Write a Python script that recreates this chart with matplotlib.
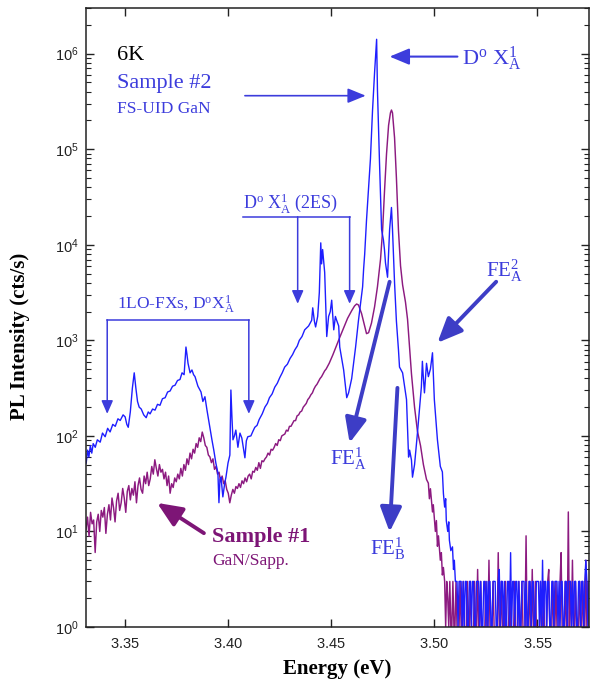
import numpy as np
import matplotlib
matplotlib.use("Agg")
import matplotlib.pyplot as plt
from matplotlib.ticker import LogLocator, FuncFormatter, NullFormatter, FixedLocator

plt.rcParams['font.family'] = ['Liberation Serif', 'DejaVu Serif']
plt.rcParams['mathtext.fontset'] = 'custom'
plt.rcParams['mathtext.rm'] = 'Liberation Serif'
plt.rcParams['mathtext.it'] = 'Liberation Serif:italic'
plt.rcParams['mathtext.bf'] = 'Liberation Serif:bold'
plt.rcParams['mathtext.sf'] = 'Liberation Sans'

# --- Sample #2 (FS-UID GaN): energy (eV) and PL counts (cts/s) ---
e_s2 = [3.3311, 3.3318, 3.3324, 3.3331, 3.3338, 3.3345, 3.3355, 3.3365, 3.3379, 3.3390,
        3.3403, 3.3415, 3.3427, 3.3440, 3.3452, 3.3465, 3.3476, 3.3490, 3.3500, 3.3508,
        3.3515, 3.3525, 3.3535, 3.3544, 3.3552, 3.3560, 3.3568, 3.3578, 3.3590, 3.3602,
        3.3612, 3.3621, 3.3633, 3.3645, 3.3657, 3.3669, 3.3681, 3.3694, 3.3706, 3.3718,
        3.3730, 3.3742, 3.3754, 3.3766, 3.3776, 3.3786, 3.3795, 3.3800, 3.3805, 3.3815,
        3.3824, 3.3832, 3.3839, 3.3853, 3.3868, 3.3877, 3.3887, 3.3897, 3.3910, 3.3921,
        3.3930, 3.3940, 3.3950, 3.3955, 3.3960, 3.3965, 3.3974, 3.3983, 3.3989, 3.3999,
        3.4008, 3.4013, 3.4018, 3.4023, 3.4030, 3.4037, 3.4047, 3.4057, 3.4066, 3.4075,
        3.4081, 3.4088, 3.4095, 3.4110, 3.4120, 3.4129, 3.4140, 3.4150, 3.4165, 3.4178,
        3.4190, 3.4200, 3.4213, 3.4226, 3.4238, 3.4250, 3.4262, 3.4274, 3.4287, 3.4300,
        3.4312, 3.4323, 3.4335, 3.4345, 3.4358, 3.4371, 3.4390, 3.4405, 3.4410, 3.4418,
        3.4424, 3.4434, 3.4442, 3.4449, 3.4453, 3.4458, 3.4468, 3.4478, 3.4487, 3.4495,
        3.4502, 3.4512, 3.4520, 3.4526, 3.4536, 3.4541, 3.4560, 3.4575, 3.4584, 3.4599,
        3.4618, 3.4632, 3.4652, 3.4657, 3.4662, 3.4671, 3.4690, 3.4700, 3.4710, 3.4720,
        3.4724, 3.4734, 3.4744, 3.4753, 3.4758, 3.4763, 3.4773, 3.4783, 3.4792, 3.4797,
        3.4807, 3.4816, 3.4826, 3.4831, 3.4846, 3.4865, 3.4875, 3.4880, 3.4889, 3.4894,
        3.4904, 3.4918, 3.4937, 3.4942, 3.4947, 3.4952, 3.4962, 3.4971, 3.4981, 3.4991,
        3.5000, 3.5015, 3.5029, 3.5039, 3.5044, 3.5050, 3.5055, 3.5058, 3.5065, 3.5070,
        3.5073, 3.5080, 3.5088, 3.5093, 3.5097, 3.5102]
i_s2 = [52, 71, 60, 79, 66, 83, 76, 91, 86, 107,
        98, 120, 110, 132, 126, 151, 145, 166, 158, 132,
        123, 178, 316, 457, 316, 229, 200, 191, 166, 155,
        178, 170, 191, 186, 214, 209, 245, 251, 288, 295,
        331, 339, 380, 389, 457, 437, 851, 708, 575, 457,
        490, 437, 417, 331, 288, 229, 257, 186, 126, 91,
        71, 52, 41, 20, 35, 37, 23, 32, 37, 52,
        63, 302, 158, 91, 100, 115, 76, 107, 95, 71,
        59, 89, 98, 100, 112, 123, 129, 148, 170, 200,
        219, 251, 275, 324, 355, 407, 457, 525, 562, 646,
        708, 794, 871, 1000, 1096, 1288, 1413, 1622, 2188, 1585,
        1380, 1778, 3162, 10470, 6310, 8913, 5129, 1096, 1778, 1995,
        2630, 1288, 1778, 1622, 1413, 851, 490, 251, 282, 398,
        851, 1622, 3631, 5623, 7943, 18200, 79430, 251200, 631000, 1413000,
        417000, 72440, 14450, 11220, 8913, 6457, 4571, 14450, 24550, 14450,
        3981, 1585, 794, 525, 457, 240, 60, 71, 56, 37,
        50, 107, 324, 603, 398, 282, 575, 417, 501, 741,
        240, 91, 48, 42, 25, 18, 22, 13, 10, 12.6,
        8.1, 6.3, 6.9, 4.0, 5.0, 3.0]
# noise floor of sample #2, 0.5 meV steps from 3.5105 eV
e_s2_floor0 = 3.5105
i_s2_floor = [3, 3, 1, 3, 3, 3, 1, 3, 1, 3,
              3, 1, 1, 3, 3, 1, 3, 3, 1, 1,
              3, 3, 3, 1, 3, 1, 1, 3, 3, 1,
              3, 1, 3, 3, 1, 1, 3, 3, 3, 1,
              1, 3, 4, 1, 3, 3, 1, 3, 1, 1,
              3, 3, 1, 6, 1, 3, 3, 1, 3, 3,
              1, 3, 1, 1, 3, 3, 3, 1, 3, 1,
              1, 3, 3, 1, 3, 3, 1, 1, 3, 3,
              3, 1, 3, 1, 5, 1, 3, 3, 1, 3,
              3, 1, 1, 3, 3, 1, 3, 3, 3, 1,
              3, 1, 3, 3, 1, 1, 3, 3, 1, 3,
              3, 3, 1, 3, 1, 3, 3, 1, 1, 3,
              3, 1, 3, 3, 1, 3, 5, 3, 1, 3]

# --- Sample #1 (GaN/Sapp.) ---
# low-energy side, log10 of counts on an even grid 3.331 .. 3.449 eV
e_s1_low = (3.331, 3.449)
log_i_s1_low = [1.02, 1.15, 0.95, 1.20, 1.08, 1.12, 0.78, 1.10, 1.18, 1.00,
                1.22, 1.15, 1.25, 0.98, 1.18, 1.28, 1.12, 1.35, 1.25, 1.10,
                1.32, 1.40, 1.22, 1.30, 1.45, 1.35, 1.20, 1.42, 1.48, 1.33,
                1.45, 1.38, 1.52, 1.30, 1.48, 1.56, 1.44, 1.40, 1.58, 1.50,
                1.62, 1.48, 1.55, 1.68, 1.60, 1.75, 1.66, 1.58, 1.70, 1.62,
                1.65, 1.55, 1.62, 1.48, 1.58, 1.40, 1.50, 1.46, 1.56, 1.52,
                1.60, 1.55, 1.66, 1.58, 1.70, 1.64, 1.76, 1.70, 1.82, 1.76,
                1.86, 1.82, 1.92, 1.88, 1.98, 1.94, 2.04, 1.98, 1.90, 1.88,
                1.80, 1.78, 1.72, 1.76, 1.65, 1.68, 1.60, 1.62, 1.52, 1.58,
                1.50, 1.53, 1.44, 1.40, 1.30, 1.38, 1.44, 1.40, 1.47, 1.45,
                1.50, 1.46, 1.53, 1.50, 1.56, 1.52, 1.58, 1.60, 1.55, 1.63,
                1.62, 1.67, 1.64, 1.72, 1.66, 1.74, 1.73, 1.76, 1.78, 1.82,
                1.80, 1.86, 1.85, 1.88, 1.92, 1.90, 1.96, 1.95, 2.00, 2.01,
                2.02, 2.06, 2.05, 2.10, 2.10, 2.13, 2.16, 2.16, 2.21, 2.22,
                2.25, 2.26, 2.30, 2.32, 2.34, 2.38, 2.40, 2.43, 2.45, 2.49,
                2.52, 2.54, 2.57, 2.60, 2.62, 2.65, 2.68, 2.70, 2.73, 2.76]
e_s1 = [3.4508, 3.4526, 3.4541, 3.4560, 3.4579, 3.4599, 3.4613, 3.4623, 3.4632, 3.4647,
        3.4662, 3.4671, 3.4681, 3.4695, 3.4710, 3.4724, 3.4739, 3.4749, 3.4758, 3.4768,
        3.4778, 3.4787, 3.4792, 3.4797, 3.4807, 3.4816, 3.4826, 3.4836, 3.4846, 3.4860,
        3.4870, 3.4879, 3.4889, 3.4904, 3.4918, 3.4933, 3.4947, 3.4962, 3.4971, 3.4976,
        3.4981, 3.4991, 3.4995, 3.5005, 3.5010, 3.5015, 3.5020, 3.5029, 3.5034, 3.5039,
        3.5044]
i_s1 = [708, 891, 1072, 1349, 1698, 2042, 2291, 2399, 2344, 1905,
        1413, 1175, 1202, 1514, 2239, 3631, 7079, 14130, 35480, 89130,
        177800, 239900, 257000, 239900, 131800, 50120, 14130, 6026, 3802, 2512,
        1660, 891, 447, 200, 112, 79, 50, 35, 32, 22,
        28, 16, 19, 10, 13, 7, 9, 5, 6, 3.5,
        4.2]
e_s1_floor0 = 3.5050
i_s1_floor = [3, 1, 3, 2, 1, 3, 1, 1, 3, 1,
              1, 3, 1, 1, 1, 3, 1, 1, 3, 1,
              1, 1, 3, 1, 1, 3, 1, 1, 1, 3,
              1, 1, 4, 1, 1, 3, 1, 1, 1, 1,
              3, 1, 1, 5, 1, 1, 1, 3, 1, 1,
              1, 1, 6, 1, 1, 3, 1, 1, 1, 3,
              1, 1, 1, 3, 1, 1, 1, 1, 3, 1,
              1, 1, 3, 1, 1, 3, 1, 1, 1, 9,
              1, 1, 3, 1, 1, 4, 1, 1, 3, 1,
              1, 1, 1, 3, 1, 1, 3, 1, 1, 1,
              3, 4, 1, 1, 1, 3, 1, 1, 3, 1,
              1, 1, 3, 6, 1, 1, 1, 3, 1, 1,
              16, 1, 3, 1, 5, 1, 1, 3, 1, 1,
              1, 3, 1, 1, 3, 1, 1, 5, 1, 3,
              1]

step = 0.0005
x2 = np.concatenate([e_s2, e_s2_floor0 + step * np.arange(len(i_s2_floor))])
y2 = np.concatenate([i_s2, i_s2_floor])
x1 = np.concatenate([np.linspace(e_s1_low[0], e_s1_low[1], len(log_i_s1_low)), e_s1,
                     e_s1_floor0 + step * np.arange(len(i_s1_floor))])
y1 = np.concatenate([10.0 ** np.array(log_i_s1_low), i_s1, i_s1_floor])

blue = '#1e1eff'
ann_blue = '#3c3cdc'
arrow_blue = '#3d3dc6'
purple = '#8c1a80'
ann_purple = '#7d1576'

fig = plt.figure(figsize=(5.91, 6.87), dpi=100)
ax = fig.add_axes([0.1455, 0.0873, 0.851, 0.901])

ax.plot(x1, y1, color=purple, lw=1.05)
ax.plot(x2, y2, color=blue, lw=1.0)

ax.set_yscale('log')
ax.set_xlim(3.331, 3.575)
ax.set_ylim(1, 3.0e6)

ax.xaxis.set_major_locator(FixedLocator([3.35, 3.40, 3.45, 3.50, 3.55]))
ax.xaxis.set_major_formatter(FuncFormatter(lambda v, p: r'$\mathsf{%.2f}$' % v))
ax.yaxis.set_major_locator(FixedLocator([1e0, 1e1, 1e2, 1e3, 1e4, 1e5, 1e6]))
ax.yaxis.set_minor_locator(LogLocator(base=10, subs=np.arange(2, 10), numticks=10))
ax.yaxis.set_minor_formatter(NullFormatter())
ax.yaxis.set_major_formatter(FuncFormatter(lambda v, p: r'$\mathsf{10^{%d}}$' % round(np.log10(v))))
ax.tick_params(axis='both', which='both', direction='in', top=True, right=True,
               colors='#222222', labelsize=10.5)
ax.tick_params(axis='both', which='major', length=6, width=1.0)
ax.tick_params(axis='both', which='minor', length=3.5, width=0.8)
ax.tick_params(axis='x', pad=7)
ax.tick_params(axis='y', pad=5)
for s in ax.spines.values():
    s.set_linewidth(1.1)
    s.set_color('#222222')

ax.set_xlabel('Energy (eV)', fontsize=15, fontweight='bold')
ax.set_ylabel('PL Intensity (cts/s)', fontsize=15, fontweight='bold')
ax.xaxis.set_label_coords(0.5, -0.052)
ax.yaxis.set_label_coords(-0.112, 0.47)

# --- annotations ---
def arrow(tail, head, color, lw, hl, hw):
    ax.annotate('', xy=head, xytext=tail,
                arrowprops=dict(arrowstyle='-|>,head_length=%g,head_width=%g' % (hl, hw),
                                color=color, lw=lw, shrinkA=0, shrinkB=0,
                                mutation_scale=1))

ax.text(3.3461, 8.65e5, '6K', fontsize=16, color='black', va='baseline')
ax.text(3.3461, 4.41e5, 'Sample #2', fontsize=16, color=ann_blue, va='baseline')
ax.text(3.3461, 2.41e5, 'FS-UID GaN', fontsize=12.5, color=ann_blue, va='baseline')
arrow((3.4081, 3.63e5), (3.4667, 3.63e5), ann_blue, 1.2, 11, 4.5)

ax.text(3.5136, 7.67e5, r'D$^{\mathrm{o}}$ X$_{\mathrm{A}}^{\mathrm{1}}$', fontsize=16,
        color=ann_blue, va='baseline')
arrow((3.5112, 9.31e5), (3.4783, 9.31e5), ann_blue, 1.5, 12, 5)

ax.text(3.4071, 2.38e4, r'D$^{\mathrm{o}}$ X$_{\mathrm{A}}^{\mathrm{1}}$ (2ES)', fontsize=13,
        color=ann_blue, va='baseline')
ax.plot([3.4071, 3.4589], [1.964e4, 1.964e4], color=ann_blue, lw=1.1)
arrow((3.4337, 1.964e4), (3.4337, 2.41e3), ann_blue, 1.1, 8, 3.5)
arrow((3.4589, 1.964e4), (3.4589, 2.41e3), ann_blue, 1.1, 8, 3.5)

ax.text(3.3461, 2.085e3, r'1LO-FXs, D$^{\mathrm{o}}$X$_{\mathrm{A}}^{\mathrm{1}}$', fontsize=12.5,
        color=ann_blue, va='baseline')
ax.plot([3.3413, 3.4100], [1.64e3, 1.64e3], color=ann_blue, lw=1.1)
arrow((3.3413, 1.64e3), (3.3413, 170), ann_blue, 1.1, 8, 3.5)
arrow((3.4100, 1.64e3), (3.4100, 170), ann_blue, 1.1, 8, 3.5)

ax.text(3.5252, 4.62e3, r'FE$_{\mathrm{A}}^{\mathrm{2}}$', fontsize=15, color=ann_blue, va='baseline')
arrow((3.5300, 4.1e3), (3.5015, 9.42e2), arrow_blue, 2.8, 15, 6.5)

ax.text(3.4492, 49.7, r'FE$_{\mathrm{A}}^{\mathrm{1}}$', fontsize=15, color=ann_blue, va='baseline')
arrow((3.4783, 4.1e3), (3.4589, 84.5), arrow_blue, 2.8, 15, 6.5)

ax.text(3.4686, 5.7, r'FE$_{\mathrm{B}}^{\mathrm{1}}$', fontsize=15, color=ann_blue, va='baseline')
arrow((3.4821, 318), (3.4783, 9.9), arrow_blue, 2.8, 15, 6.5)

ax.text(3.3921, 7.77, 'Sample #1', fontsize=16, fontweight='bold', color=ann_purple,
        va='baseline')
ax.text(3.3921, 4.46, 'GaN/Sapp.', fontsize=12.5, color=ann_purple, va='baseline')
arrow((3.3882, 9.6), (3.3655, 19.9), ann_purple, 2.8, 15, 6.5)

fig.savefig('out.png', dpi=100)
